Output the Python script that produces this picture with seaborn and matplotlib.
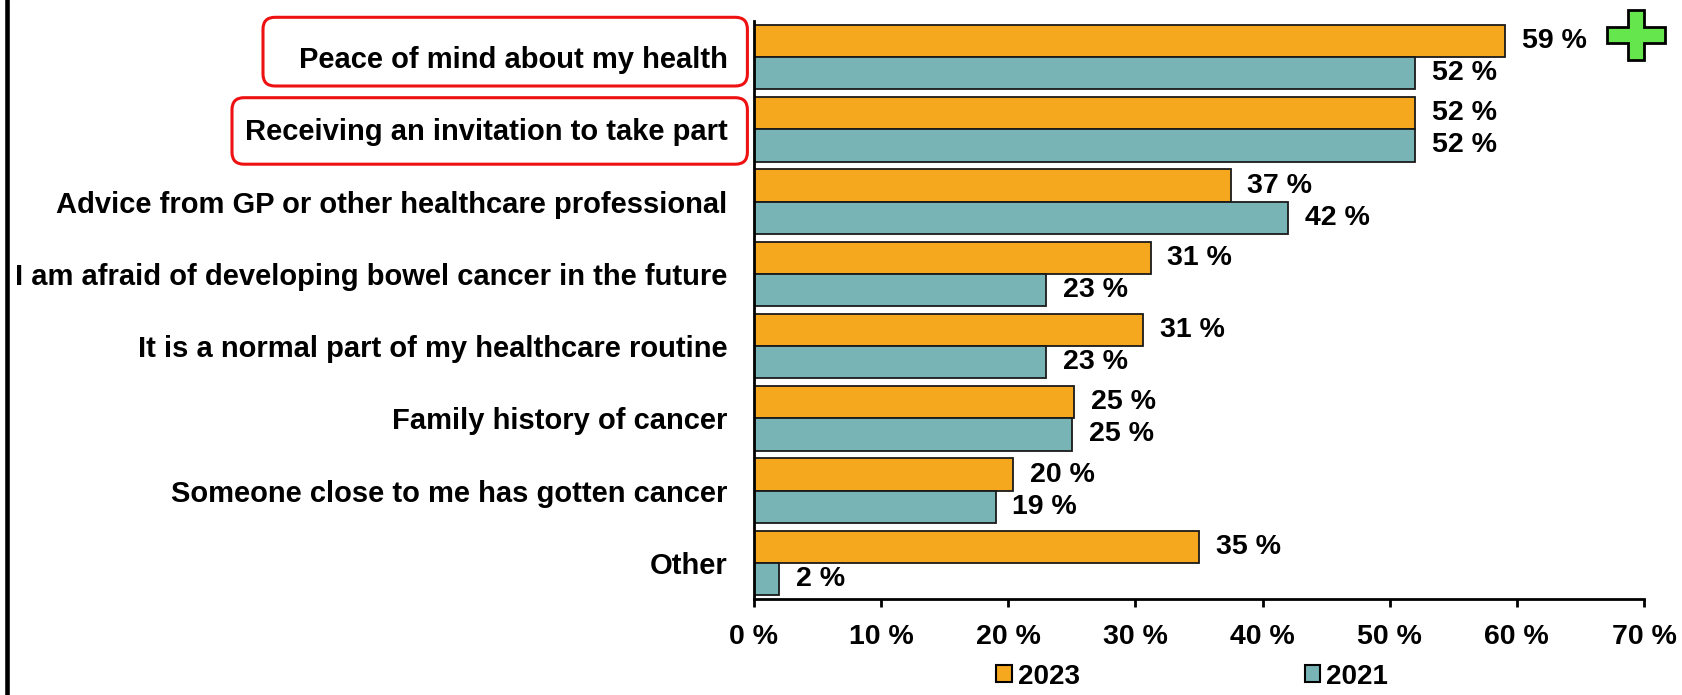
import matplotlib
matplotlib.use("Agg")
import matplotlib.pyplot as plt
from matplotlib.patches import FancyBboxPatch, Polygon, Patch
from matplotlib.lines import Line2D
import pandas as pd
import seaborn as sns

# data
reasons = [
    "Peace of mind about my health",
    "Receiving an invitation to take part",
    "Advice from GP or other healthcare professional",
    "I am afraid of developing bowel cancer in the future",
    "It is a normal part of my healthcare routine",
    "Family history of cancer",
    "Someone close to me has gotten cancer",
    "Other",
]
years = ["2023", "2021"]
share_2023 = [59.1, 52.0, 37.5, 31.2, 30.6, 25.2, 20.4, 35.0]
share_2021 = [52.0, 52.0, 42.0, 23.0, 23.0, 25.0, 19.0, 2.0]
labels_2023 = [59, 52, 37, 31, 31, 25, 20, 35]
labels_2021 = [52, 52, 42, 23, 23, 25, 19, 2]
x_ticks = [0, 10, 20, 30, 40, 50, 60, 70]
colors = {"2023": "#F5A81E", "2021": "#78B4B6"}

df = pd.DataFrame({
    "reason": reasons * 2,
    "year": ["2023"] * len(reasons) + ["2021"] * len(reasons),
    "share": share_2023 + share_2021,
})

sns.set_style("white")
plt.rcParams["font.family"] = ["Liberation Sans", "DejaVu Sans"]
plt.rcParams["font.weight"] = "bold"
for key in ["text.color", "axes.labelcolor", "xtick.color", "ytick.color"]:
    plt.rcParams[key] = "black"

W, H = 1683, 695
fig = plt.figure(figsize=(W / 100, H / 100), dpi=100)
ax = fig.add_axes([754 / W, 1 - 599 / H, (1644 - 754) / W, (599 - 21) / H])

sns.barplot(data=df, y="reason", x="share", hue="year", hue_order=years,
            palette=colors, orient="h", width=0.89, saturation=1,
            errorbar=None, edgecolor="#1a1a1a", linewidth=1.3,
            legend=False, ax=ax)

for cont, labs in zip(ax.containers, [labels_2023, labels_2021]):
    ax.bar_label(cont, labels=[f"{v} %" for v in labs], padding=12,
                 fontsize=20.5, fontweight="bold", color="black")

ax.set_xlim(0, 70)
ax.set_ylim(7.5, -0.5)
ax.set_xticks(x_ticks)
ax.set_xticklabels([f"{t} %" for t in x_ticks])
ax.set_xlabel("")
ax.set_ylabel("")

for s in ["top", "right"]:
    ax.spines[s].set_visible(False)
for s in ["left", "bottom"]:
    ax.spines[s].set_linewidth(2)
    ax.spines[s].set_color("black")

ax.tick_params(axis="x", bottom=True, length=6, width=2, direction="out",
               pad=12, labelsize=20.5, colors="black")
ax.tick_params(axis="y", left=False, length=0, pad=19, labelsize=21,
               colors="black")

# legend below the axis
handles = [Patch(facecolor=colors[y], edgecolor="black", linewidth=1.5) for y in years]
fig.legend(handles, years, loc="center left",
           bbox_to_anchor=(996 / W, 1 - 676.5 / H), ncol=2, frameon=False,
           prop={"weight": "bold", "size": 20}, handlelength=0.57,
           handleheight=0.57, handletextpad=0.21, columnspacing=8.1,
           borderpad=0, borderaxespad=0, labelcolor="black")

# red highlight boxes around the first two labels (pixel positions)
def px_box(x0, y0, x1, y1):
    return FancyBboxPatch((x0 / 100, (H - y1) / 100), (x1 - x0) / 100, (y1 - y0) / 100,
                          boxstyle="round,pad=0,rounding_size=0.12",
                          transform=fig.dpi_scale_trans, fill=False,
                          edgecolor="#EE1111", linewidth=2.2)

fig.add_artist(px_box(263, 17.3, 747.4, 86))
fig.add_artist(px_box(232, 97.7, 747.4, 164.2))

# green plus sign
px = [1606.7, 1627.7, 1644.3, 1665]
py = [10, 26.7, 42.7, 60]
order = [(1, 0), (2, 0), (2, 1), (3, 1), (3, 2), (2, 2), (2, 3), (1, 3),
         (1, 2), (0, 2), (0, 1), (1, 1)]
pts = [(px[i] / 100, (H - py[j]) / 100) for i, j in order]
fig.add_artist(Polygon(pts, closed=True, facecolor="#66E64D", edgecolor="black",
                       linewidth=2, transform=fig.dpi_scale_trans))

# frame line at the left edge
fig.add_artist(Line2D([7 / W, 7 / W], [0, 1], transform=fig.transFigure,
                      color="black", linewidth=3.3))

fig.savefig("out.png", dpi=100)
